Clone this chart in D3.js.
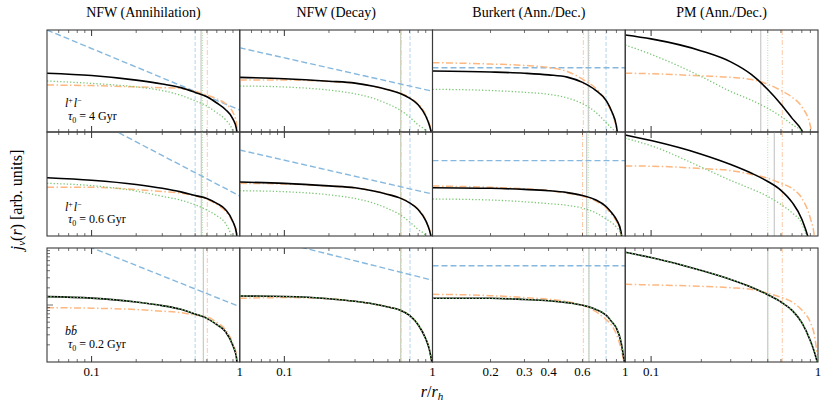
<!DOCTYPE html>
<html>
<head>
<meta charset="utf-8">
<script src="https://cdn.jsdelivr.net/npm/d3@7"></script>
<style>
  body { margin: 0; background: #fff; }
</style>
</head>
<body>
<svg id="chart" width="831" height="409" font-family="'Liberation Serif', 'Times New Roman', Times, 'DejaVu Serif', serif"></svg>
<script>
// radius grids (r / r_h) for each halo profile
var rNFW = [0.05, 0.1, 0.2, 0.3, 0.4, 0.5, 0.6, 0.7, 0.8, 0.9, 0.95, 0.99];
var rBur = [0.1, 0.2, 0.3, 0.4, 0.5, 0.6, 0.7, 0.8, 0.85, 0.9, 0.95, 0.99];
var rPM  = [0.07, 0.1, 0.2, 0.3, 0.4, 0.5, 0.6, 0.7, 0.8, 0.9, 0.95, 0.99];
var rBlueNFW = [0.05, 1];
var rBlueBur = [0.1, 1];

var colTitles = ["NFW (Annihilation)", "NFW (Decay)", "Burkert (Ann./Dec.)", "PM (Ann./Dec.)"];
var rowTau = ["4", "0.6", "0.2"];
var xTickLabels = [[0.1, 1], [0.1, 1], [0.2, 0.3, 0.4, 0.6, 1], [0.1, 1]];

// row 1 : l+l-, tau0 = 4 Gyr
var p11Black  = [14.2, 12.8, 10.4, 8.73, 7.42, 5.98, 4.90, 3.70, 2.76, 1.79, 1.15, 0.2];
var p11Orange = [8.35, 8.12, 7.66, 7.39, 7.16, 6.28, 5.29, 4.48, 3.61, 2.41, 1.50, 0.3];
var p11Green  = [10.0, 8.97, 7.66, 6.48, 5.24, 4.07, 3.22, 2.38, 1.75, 1.01, 0.5, 0.1];
var p11Blue   = [100, 2.70];
var p11Marks  = [0.50, 0.548, 0.56, 0.604];

var p12Black  = [11.8, 11.1, 9.91, 9.10, 7.91, 6.75, 5.77, 4.62, 3.41, 2.06, 1.39, 0.9];
var p12Orange = [10.5, 10.5, 9.78, 9.0, 7.9, 6.8, 5.85, 4.75, 3.55, 2.2, 1.5, 0.95];
var p12Green  = [7.98, 7.63, 6.63, 5.61, 4.56, 3.54, 2.72, 1.96, 1.38, 1.03, 0.4, 0.1];
var p12Blue   = [44.8, 6.31];
var p12Marks  = [0.705, 0.61, 0.61, 0.615];

var p13Black  = [15.7, 15.0, 14.2, 13.2, 11.9, 9.39, 6.63, 4.02, 2.55, 1.30, 0.2, 0.05];
var p13Orange = [22.9, 21.5, 20.2, 18.4, 15.4, 10.9, 7.29, 3.85, 2.4, 1.2, 0.3, 0.05];
var p13Green  = [6.87, 6.51, 6.0, 5.49, 4.66, 3.59, 2.47, 1.50, 1.19, 0.95, 0.5, 0.1];
var p13Blue   = [18.2, 18.2];
var p13Marks  = [0.795, 0.643, 0.65, 0.606];

var p14Black  = [79.8, 66.9, 38.9, 23.7, 13.3, 6.81, 3.51, 1.85, 1.07, 0.4, 0.2, 0.05];
var p14Orange = [14.2, 13.9, 12.6, 11.8, 10.7, 8.65, 6.51, 4.81, 3.11, 1.31, 0.4, 0.1];
var p14Green  = [50.8, 33.4, 12.2, 6.22, 4.19, 2.90, 2.02, 1.40, 1.0, 0.4, 0.2, 0.05];
var p14Marks  = [null, 0.454, 0.50, 0.611];

// row 2 : l+l-, tau0 = 0.6 Gyr
var p21Black  = [13.2, 11.8, 9.78, 8.26, 7.05, 6.01, 5.28, 4.24, 3.23, 1.88, 1.15, 0.2];
var p21Orange = [8.64, 8.64, 7.80, 7.17, 6.65, 5.88, 5.12, 4.05, 3.03, 1.80, 1.16, 0.3];
var p21Green  = [10.3, 9.31, 7.30, 5.80, 4.88, 3.98, 3.15, 2.44, 1.76, 0.8, 0.4, 0.1];
var p21Blue   = [510, 5.88];
var p21Marks  = [0.50, 0.55, 0.56, 0.604];

var p22Black  = [10.9, 10.3, 9.19, 8.45, 7.36, 6.31, 5.41, 4.35, 3.23, 1.97, 1.34, 0.85];
var p22Orange = [10.3, 10.0, 9.1, 8.4, 7.4, 6.35, 5.45, 4.4, 3.3, 2.05, 1.4, 0.9];
var p22Green  = [7.43, 7.11, 6.20, 5.26, 4.29, 3.35, 2.59, 1.87, 1.33, 1.0, 0.4, 0.1];
var p22Blue   = [45.1, 6.42];
var p22Marks  = [0.705, 0.61, 0.61, 0.615];

var p23Black  = [8.49, 8.26, 7.87, 7.43, 6.83, 6.01, 4.99, 3.61, 2.79, 2.07, 1.22, 0.3];
var p23Orange = [9.16, 8.64, 8.09, 7.50, 6.65, 5.83, 4.75, 3.38, 2.58, 1.92, 1.04, 0.2];
var p23Green  = [5.15, 4.92, 4.55, 4.20, 3.89, 3.43, 2.82, 2.09, 1.81, 1.48, 1.07, 0.3];
var p23Blue   = [28.1, 28.1];
var p23Marks  = [0.795, 0.631, 0.643, 0.60];

var p24Black  = [87.5, 68.4, 37.4, 23.7, 16.1, 11.2, 7.57, 4.43, 2.10, 0.6, 0.2, 0.05];
var p24Orange = [22.2, 22.0, 19.8, 18.1, 15.3, 12.9, 10.3, 8.19, 5.33, 2.18, 1.0, 0.2];
var p24Green  = [75.7, 54.3, 21.1, 11.7, 8.01, 5.78, 4.03, 2.79, 1.72, 0.5, 0.2, 0.05];
var p24Marks  = [null, 0.547, 0.50, 0.611];

// row 3 : b bbar, tau0 = 0.2 Gyr
var p31Black  = [14.0, 13.2, 11.3, 9.76, 8.41, 6.95, 5.82, 4.51, 3.43, 1.92, 1.19, 0.2];
var p31Orange = [8.97, 8.79, 8.34, 7.79, 7.33, 6.65, 6.21, 4.95, 3.70, 2.09, 1.35, 0.3];
var p31Green  = [14.0, 13.2, 11.3, 9.76, 8.41, 6.95, 5.82, 4.51, 3.43, 1.92, 1.19, 0.2];
var p31Blue   = [208, 9.33];
var p31Marks  = [0.50, 0.568, 0.568, 0.604];

var p32Black  = [14.4, 14.1, 12.9, 11.6, 10.4, 9.22, 8.20, 6.57, 4.51, 2.55, 1.70, 1.0];
var p32Orange = [13.1, 13.5, 12.9, 11.6, 10.4, 9.22, 8.20, 6.6, 4.55, 2.6, 1.72, 1.0];
var p32Green  = [14.4, 14.1, 12.9, 11.6, 10.4, 9.22, 8.20, 6.57, 4.51, 2.55, 1.70, 1.0];
var p32Blue   = [192, 27.2];
var p32Marks  = [0.705, 0.61, 0.61, 0.615];

var p33Black  = [13.1, 13.1, 12.5, 11.9, 11.0, 9.92, 8.44, 6.54, 5.11, 3.92, 2.27, 1.0];
var p33Orange = [15.4, 14.6, 13.5, 12.6, 11.5, 9.88, 7.72, 5.46, 4.39, 3.06, 1.73, 0.9];
var p33Green  = [13.1, 13.1, 12.5, 11.9, 11.0, 9.92, 8.44, 6.54, 5.11, 3.92, 2.27, 1.0];
var p33Blue   = [48.9, 48.9];
var p33Marks  = [0.795, 0.648, 0.648, 0.606];

var p34Black  = [84.1, 67.9, 40.3, 28.0, 20.5, 15.1, 11.3, 8.04, 4.91, 2.36, 1.52, 1.0];
var p34Orange = [23.1, 22.5, 21.3, 20.1, 18.7, 16.1, 13.6, 11.3, 8.14, 4.95, 3.03, 1.33];
var p34Green  = [84.1, 67.9, 40.3, 28.0, 20.5, 15.1, 11.3, 8.04, 4.91, 2.36, 1.52, 1.0];
var p34Marks  = [null, 0.50, 0.50, 0.611];

var panels = [
  [
    {black: p11Black, orange: p11Orange, green: p11Green, blue: p11Blue, marks: p11Marks},
    {black: p12Black, orange: p12Orange, green: p12Green, blue: p12Blue, marks: p12Marks},
    {black: p13Black, orange: p13Orange, green: p13Green, blue: p13Blue, marks: p13Marks},
    {black: p14Black, orange: p14Orange, green: p14Green, blue: null, marks: p14Marks}
  ],
  [
    {black: p21Black, orange: p21Orange, green: p21Green, blue: p21Blue, marks: p21Marks},
    {black: p22Black, orange: p22Orange, green: p22Green, blue: p22Blue, marks: p22Marks},
    {black: p23Black, orange: p23Orange, green: p23Green, blue: p23Blue, marks: p23Marks},
    {black: p24Black, orange: p24Orange, green: p24Green, blue: null, marks: p24Marks}
  ],
  [
    {black: p31Black, orange: p31Orange, green: p31Green, blue: p31Blue, marks: p31Marks},
    {black: p32Black, orange: p32Orange, green: p32Green, blue: p32Blue, marks: p32Marks},
    {black: p33Black, orange: p33Orange, green: p33Green, blue: p33Blue, marks: p33Marks},
    {black: p34Black, orange: p34Orange, green: p34Green, blue: null, marks: p34Marks}
  ]
];

// layout
var colX = [47, 239.75, 432.5, 625.25];
var colW = 192.75;
var rowY = [30, 132, 248];
var rowH = [102, 104, 114];
var xDomains = [[0.05, 1], [0.05, 1], [0.1, 1], [0.07, 1]];
var rGrids = [rNFW, rNFW, rBur, rPM];
var rBlue = [rBlueNFW, rBlueNFW, rBlueBur, null];

var markStyles = [
  {stroke: "#b4d4ec", dash: "4,2", w: 1},        // blue dashed
  {stroke: "#c4c4c4", dash: null, w: 1.1},       // grey solid
  {stroke: "#b5dfb1", dash: "1,1.5", w: 1},      // green dotted
  {stroke: "#fcccaa", dash: "5,2,1,2", w: 1}     // orange dash-dot
];

var svg = d3.select("#chart");
var defs = svg.append("defs");

panels.forEach(function(row, i) {
  row.forEach(function(p, j) {
    var x = d3.scaleLog().domain(xDomains[j]).range([colX[j], colX[j] + colW]);
    var y = d3.scaleLog().domain([1, 100]).range([rowY[i] + rowH[i], rowY[i]]);
    var clipId = "clip" + i + j;
    defs.append("clipPath").attr("id", clipId).append("rect")
      .attr("x", colX[j]).attr("y", rowY[i]).attr("width", colW).attr("height", rowH[i]);

    var g = svg.append("g").attr("clip-path", "url(#" + clipId + ")");

    // vertical marker lines
    p.marks.forEach(function(m, k) {
      if (m == null) return;
      var st = markStyles[k];
      g.append("line")
        .attr("x1", x(m)).attr("x2", x(m))
        .attr("y1", rowY[i]).attr("y2", rowY[i] + rowH[i])
        .attr("stroke", st.stroke).attr("stroke-width", st.w)
        .attr("stroke-dasharray", st.dash);
    });

    var line = d3.line()
      .x(function(d) { return x(d[0]); })
      .y(function(d) { return y(d[1]); })
      .curve(d3.curveMonotoneX);
    var grid = rGrids[j];
    function pts(vals) { return grid.map(function(r, k) { return [r, vals[k]]; }); }

    if (p.blue) {
      g.append("path").attr("d", line(rBlue[j].map(function(r, k) { return [r, p.blue[k]]; })))
        .attr("fill", "none").attr("stroke", "#86b8de").attr("stroke-width", 1.4)
        .attr("stroke-dasharray", "6,3");
    }
    g.append("path").attr("d", line(pts(p.orange)))
      .attr("fill", "none").attr("stroke", "#fdb882").attr("stroke-width", 1.5)
      .attr("stroke-dasharray", "7,2.5,1.5,2.5");
    g.append("path").attr("d", line(pts(p.black)))
      .attr("fill", "none").attr("stroke", "#000").attr("stroke-width", 1.6);
    g.append("path").attr("d", line(pts(p.green)))
      .attr("fill", "none").attr("stroke", "#7cc776").attr("stroke-width", 1.3)
      .attr("stroke-dasharray", "1.3,2");

    // x ticks, top and bottom, pointing inwards
    var ticks = x.ticks().filter(function(t) { return t > xDomains[j][0] * 1.001 && t < 0.999; });
    ticks.forEach(function(t) {
      var major = Math.abs(Math.log10(t) - Math.round(Math.log10(t))) < 1e-6;
      var len = major ? 6 : 3;
      svg.append("line").attr("x1", x(t)).attr("x2", x(t))
        .attr("y1", rowY[i] + rowH[i]).attr("y2", rowY[i] + rowH[i] - len)
        .attr("stroke", "#333").attr("stroke-width", major ? 1 : 0.7);
      svg.append("line").attr("x1", x(t)).attr("x2", x(t))
        .attr("y1", rowY[i]).attr("y2", rowY[i] + len)
        .attr("stroke", "#333").attr("stroke-width", major ? 1 : 0.7);
    });

    // y ticks on the bottom row, left column
    if (i === 2 && j === 0) {
      y.ticks().filter(function(t) { return t > 1 && t < 100; }).forEach(function(t) {
        var major = t === 10;
        svg.append("line").attr("x1", colX[0]).attr("x2", colX[0] + (major ? 6 : 3))
          .attr("y1", y(t)).attr("y2", y(t))
          .attr("stroke", "#333").attr("stroke-width", 0.7);
      });
    }

    // frame
    svg.append("rect").attr("x", colX[j]).attr("y", rowY[i])
      .attr("width", colW).attr("height", rowH[i])
      .attr("fill", "none").attr("stroke", "#3a3a3a").attr("stroke-width", 1.1);

    // tick labels under bottom row
    if (i === 2) {
      xTickLabels[j].forEach(function(t) {
        svg.append("text").attr("x", x(t)).attr("y", 376)
          .attr("text-anchor", "middle").attr("font-size", 13)
          .text(t);
      });
    }
  });
});

// column titles
colTitles.forEach(function(t, j) {
  svg.append("text").attr("x", colX[j] + colW / 2).attr("y", 17)
    .attr("text-anchor", "middle").attr("font-size", 14).text(t);
});

// channel / tau annotations
var chanY = [107, 211, 335];
var tauY = [120, 223, 348];
rowTau.forEach(function(tau, i) {
  var c = svg.append("text").attr("x", 65).attr("y", chanY[i]).attr("font-size", 12);
  if (i < 2) {
    c.append("tspan").attr("font-style", "italic").text("l");
    c.append("tspan").attr("font-size", 8).attr("dy", -4).text("+");
    c.append("tspan").attr("font-style", "italic").attr("dy", 4).attr("dx", 1).text("l");
    c.append("tspan").attr("font-size", 8).attr("dy", -4).text("\u2212");
  } else {
    c.append("tspan").attr("font-style", "italic").text("b");
    c.append("tspan").attr("font-style", "italic").text("b\u0304");
  }
  var t = svg.append("text").attr("x", 68).attr("y", tauY[i]).attr("font-size", 12);
  t.append("tspan").attr("font-style", "italic").text("\u03c4");
  t.append("tspan").attr("font-size", 8).attr("dy", 2.5).text("0");
  t.append("tspan").attr("dy", -2.5).text(" = " + tau + " Gyr");
});

// axis labels
var yl = svg.append("text").attr("transform", "translate(22,200) rotate(-90)")
  .attr("text-anchor", "middle").attr("font-size", 16);
yl.append("tspan").attr("font-style", "italic").text("j");
yl.append("tspan").attr("font-style", "italic").attr("font-size", 11).attr("dy", 3).text("\u03bd");
yl.append("tspan").attr("dy", -3).text("(");
yl.append("tspan").attr("font-style", "italic").text("r");
yl.append("tspan").text(") [arb. units]");

var xl = svg.append("text").attr("x", 432).attr("y", 397)
  .attr("text-anchor", "middle").attr("font-size", 16);
xl.append("tspan").attr("font-style", "italic").text("r");
xl.append("tspan").text("/");
xl.append("tspan").attr("font-style", "italic").text("r");
xl.append("tspan").attr("font-style", "italic").attr("font-size", 11).attr("dy", 3).text("h");
</script>
</body>
</html>
